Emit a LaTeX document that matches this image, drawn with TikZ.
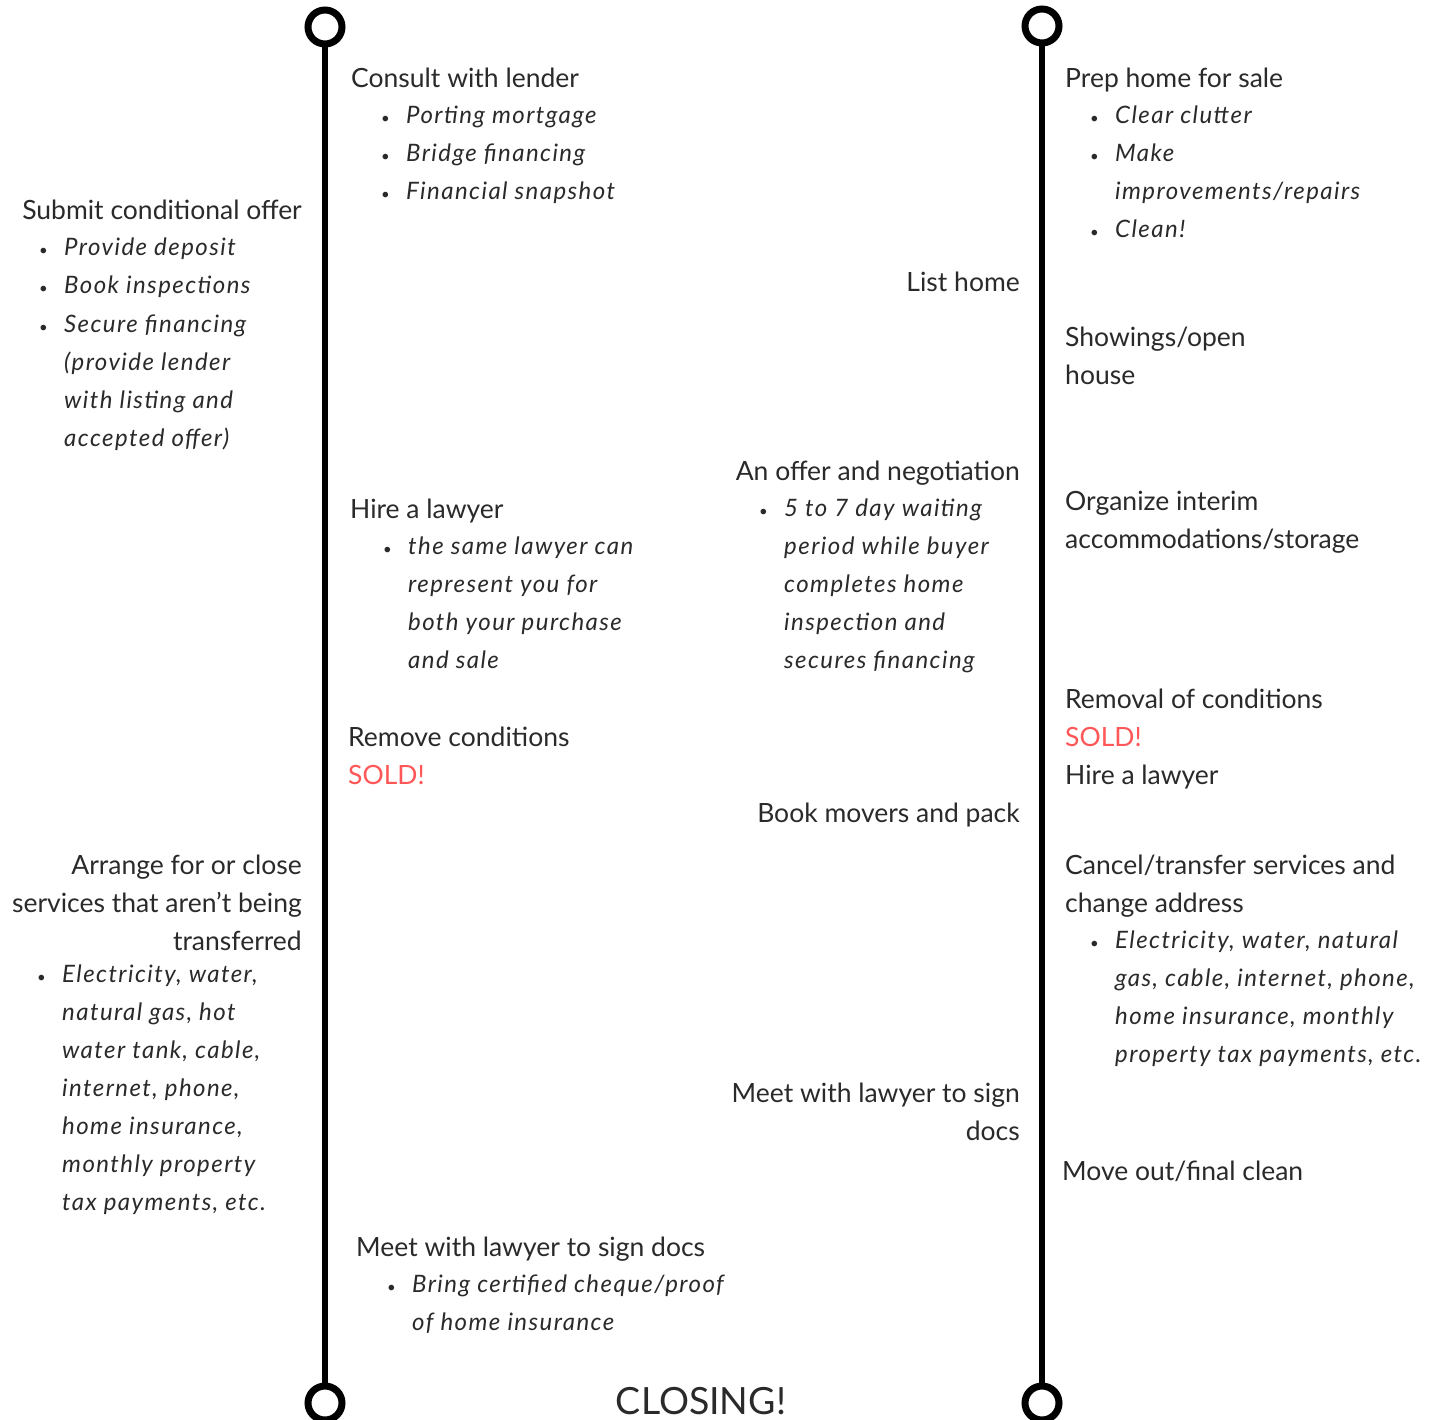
\documentclass[tikz,border=0pt]{standalone}
\usepackage{fontspec}
\setmainfont{Lato}
\newfontfamily\itfam{Lato}[LetterSpace=6]
\definecolor{Ink}{HTML}{2A2A2A}
\definecolor{Coral}{HTML}{FF5757}
\newcommand{\headfont}{\fontsize{26.5}{38}\selectfont}
\newcommand{\itemfont}{\itfam\fontsize{24}{38}\selectfont\itshape}
\newcommand{\lines}[2][\raggedright]{\parbox[t]{12cm}{#1\headfont #2}}
\newcommand{\bul}[1]{\parbox[t]{12cm}{\raggedright\itemfont\leftskip=25pt\leavevmode\llap{\makebox[25pt][l]{\fontsize{15}{15}\selectfont\textbullet}}#1}}

\begin{document}
\begin{tikzpicture}[x=1pt,y=-1pt,
  head/.style={anchor=base west,inner sep=0,text=Ink,font=\headfont},
  headr/.style={head,anchor=base east},
  itm/.style={anchor=base west,inner sep=0,text=Ink},
  sold/.style={head,text=Coral},
  rail/.style={line width=6pt,black},
  stop/.style={circle,draw=black,line width=7pt,minimum size=34pt,inner sep=0}]
\useasboundingbox[fill=white] (0,0) rectangle (1439,1420);
% the two time lines
\node[stop] (buyTop) at (325,27){};
\node[stop] (buyEnd) at (325,1403){};
\node[stop] (sellTop) at (1042,26){};
\node[stop] (sellEnd) at (1042,1403){};
\draw[rail] (buyTop)--(buyEnd);
\draw[rail] (sellTop)--(sellEnd);
% buying, left side
\node[headr] (offer) at (302,220){Submit conditional offer};
\node[itm] (deposit) at (39,256){\bul{Provide deposit}};
\node[itm] (inspect) at (39,294){\bul{Book inspections}};
\node[itm] (secure) at (39,332){\bul{Secure financing\\(provide lender\\with listing and\\accepted offer)}};
\node[headr] (services) at (302,874){\lines[\raggedleft]{Arrange for or close\\services that aren't being\\transferred}};
\node[itm] (utilities) at (37,982){\bul{Electricity, water,\\natural gas, hot\\water tank, cable,\\internet, phone,\\home insurance,\\monthly property\\tax payments, etc.}};
% buying, right side
\node[head] (consult) at (351,88){Consult with lender};
\node[itm] (porting) at (381,124){\bul{Porting mortgage}};
\node[itm] (bridge) at (381,162){\bul{Bridge financing}};
\node[itm] (snapshot) at (381,200){\bul{Financial snapshot}};
\node[head] (lawyer) at (350,518){Hire a lawyer};
\node[itm] (samelawyer) at (383,554){\bul{the same lawyer can\\represent you for\\both your purchase\\and sale}};
\node[head] (remove) at (348,746){Remove conditions};
\node[sold] (soldbuy) at (348,784){SOLD!};
\node[head] (signbuy) at (356,1256){Meet with lawyer to sign docs};
\node[itm] (cheque) at (387,1292){\bul{Bring certified cheque/proof\\of home insurance}};
\node[anchor=base,inner sep=0,text=Ink,font=\fontsize{37.5}{40}\selectfont] (closing) at (701,1414){CLOSING!};
% selling, left side
\node[headr] (list) at (1020,292){List home};
\node[headr] (negotiate) at (1020,480){An offer and negotiation};
\node[itm] (waiting) at (759,516){\bul{5 to 7 day waiting\\period while buyer\\completes home\\inspection and\\secures financing}};
\node[headr] (movers) at (1020,822){Book movers and pack};
\node[headr] (signsell) at (1020,1102){\lines[\raggedleft]{Meet with lawyer to sign\\docs}};
% selling, right side
\node[head] (prep) at (1065,88){Prep home for sale};
\node[itm] (clutter) at (1090,124){\bul{Clear clutter}};
\node[itm] (repairs) at (1090,162){\bul{Make\\improvements/repairs}};
\node[itm] (clean) at (1090,238){\bul{Clean!}};
\node[head] (showings) at (1065,346){\lines{Showings/open\\house}};
\node[head] (interim) at (1065,510){\lines{Organize interim\\accommodations/storage}};
\node[head] (removal) at (1065,708){Removal of conditions};
\node[sold] (soldsell) at (1065,746){SOLD!};
\node[head] (lawyersell) at (1065,784){Hire a lawyer};
\node[head] (cancel) at (1065,874){\lines{Cancel/transfer services and\\change address}};
\node[itm] (transfer) at (1090,948){\bul{Electricity, water, natural\\gas, cable, internet, phone,\\home insurance, monthly\\property tax payments, etc.}};
\node[head] (moveout) at (1062,1180){Move out/final clean};
\end{tikzpicture}
\end{document}
